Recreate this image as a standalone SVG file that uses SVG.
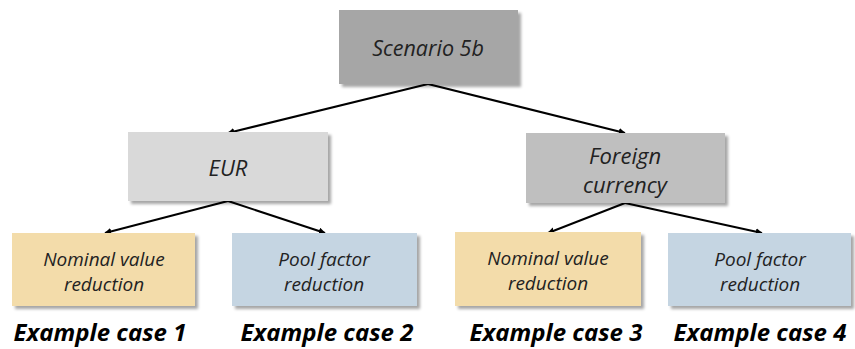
<svg xmlns="http://www.w3.org/2000/svg" width="855" height="349" viewBox="0 0 855 349">
<defs>
<filter id="sh" x="-10%" y="-10%" width="125%" height="130%">
<feDropShadow dx="3" dy="3" stdDeviation="1.5" flood-color="#000" flood-opacity="0.35"/>
</filter>
<marker id="ah" viewBox="0 0 10 10" refX="9" refY="5" markerWidth="7" markerHeight="7" markerUnits="userSpaceOnUse" orient="auto">
<path d="M0,0 L10,5 L0,10 z" fill="#000"/>
</marker>
</defs>
<style>
.box{filter:url(#sh);}
.t{font-family:"Open Sans","Noto Sans",sans-serif;font-style:italic;fill:#222;text-anchor:middle;}
.lab{font-family:"Open Sans","Noto Sans",sans-serif;font-style:italic;font-weight:bold;fill:#000;text-anchor:middle;font-size:24px;}
.c{stroke:#000;stroke-width:2;fill:none;marker-end:url(#ah);}
</style>
<rect width="855" height="349" fill="#fff"/>
<g id="connectors">
<line class="c" x1="428" y1="84" x2="228" y2="133"/>
<line class="c" x1="428" y1="84" x2="625" y2="133"/>
<line class="c" x1="228" y1="201" x2="105" y2="233"/>
<line class="c" x1="228" y1="201" x2="325" y2="233"/>
<line class="c" x1="625" y1="203" x2="548" y2="233"/>
<line class="c" x1="625" y1="203" x2="762" y2="233"/>
</g>
<g id="scenario">
<rect class="box" x="339" y="10" width="179" height="74" fill="#a6a6a6"/>
<text class="t" x="428" y="56" font-size="21.5">Scenario 5b</text>
</g>
<g id="eur">
<rect class="box" x="128" y="132" width="200" height="69" fill="#d9d9d9"/>
<text class="t" x="228" y="176" font-size="22">EUR</text>
</g>
<g id="foreign">
<rect class="box" x="526" y="133" width="199" height="70" fill="#bfbfbf"/>
<text class="t" font-size="22"><tspan x="625" y="164">Foreign</tspan><tspan x="625" y="193">currency</tspan></text>
</g>
<g id="case1">
<rect class="box" x="12" y="233" width="183" height="73" fill="#f3dcaa"/>
<text class="t" font-size="19"><tspan x="104" y="266">Nominal value</tspan><tspan x="104" y="291">reduction</tspan></text>
<text class="lab" x="100" y="341">Example case 1</text>
</g>
<g id="case2">
<rect class="box" x="232" y="233" width="185" height="73" fill="#c5d5e2"/>
<text class="t" font-size="19"><tspan x="324" y="266">Pool factor</tspan><tspan x="324" y="291">reduction</tspan></text>
<text class="lab" x="327" y="341">Example case 2</text>
</g>
<g id="case3">
<rect class="box" x="455" y="232" width="186" height="74" fill="#f3dcaa"/>
<text class="t" font-size="19"><tspan x="548" y="265">Nominal value</tspan><tspan x="548" y="290">reduction</tspan></text>
<text class="lab" x="556" y="341">Example case 3</text>
</g>
<g id="case4">
<rect class="box" x="668" y="233" width="183" height="73" fill="#c5d5e2"/>
<text class="t" font-size="19"><tspan x="760" y="266">Pool factor</tspan><tspan x="760" y="291">reduction</tspan></text>
<text class="lab" x="760" y="341">Example case 4</text>
</g>
</svg>
